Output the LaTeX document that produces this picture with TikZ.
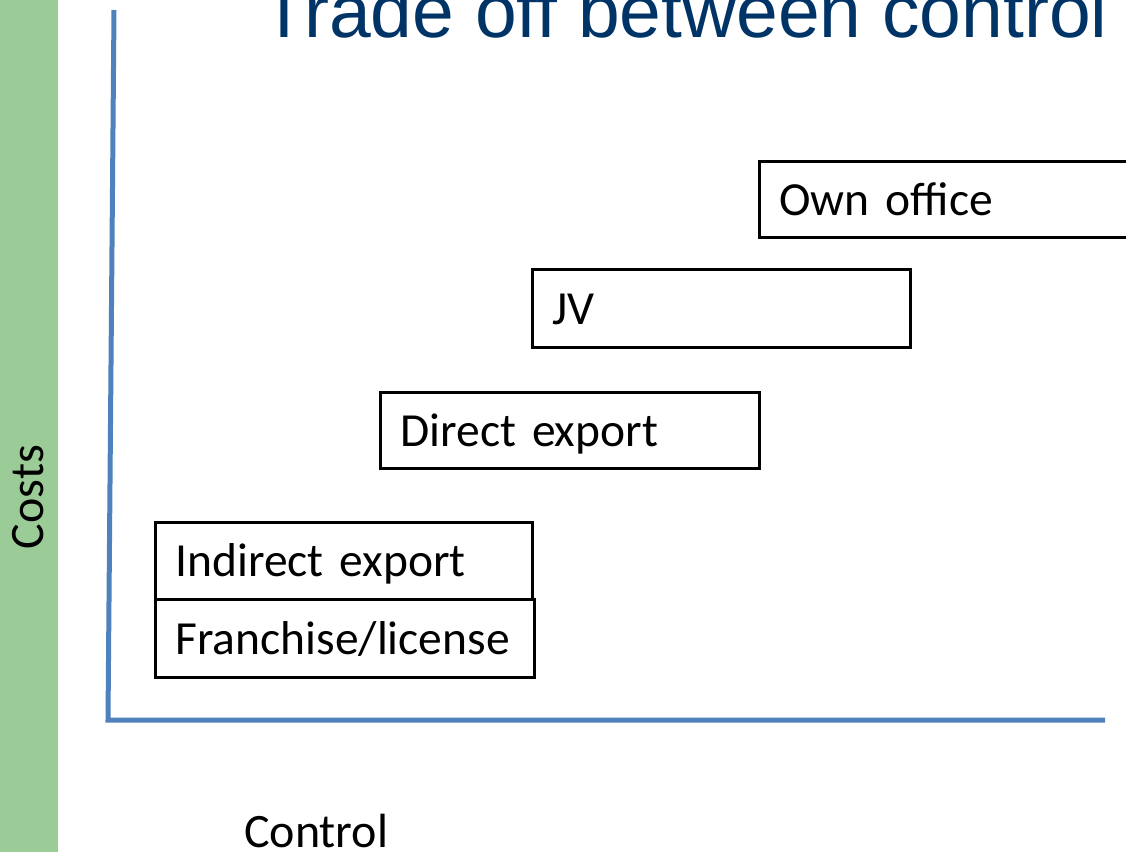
\documentclass[tikz,border=0pt]{standalone}
\usepackage{fontspec}
\setmainfont{Carlito}[WordSpace={0.75,0,0}]
\newfontfamily\titlefont{Liberation Sans}
\usetikzlibrary{calc}
\definecolor{sidegreen}{RGB}{155,204,152}
\definecolor{axisblue}{RGB}{79,129,189}
\definecolor{titleblue}{RGB}{0,51,102}
\tikzset{
  optbox/.style={draw=black, line width=3pt, anchor=north west, inner xsep=20pt, inner ysep=0pt,
    text height=31pt, text depth=0pt, align=left, font=\fontsize{47.5}{56}\selectfont},
  axisline/.style={draw=axisblue, line width=5pt, line join=miter},
  bodytext/.style={font=\fontsize{48}{56}\selectfont, inner sep=0pt}
}
\begin{document}
\begin{tikzpicture}[x=1pt,y=-1pt]
\useasboundingbox (0,0) rectangle (1126,852);
\fill[sidegreen] (0,0) rectangle (58,852);
% title
\node[anchor=base west, inner sep=0pt, text=titleblue, font=\titlefont\fontsize{75}{82}\selectfont] (title) at (261,37) {Trade off between control};
% axes
\coordinate (ytop) at (114,10);
\coordinate (origin) at (108,720);
\coordinate (xend) at (1105,720);
\draw[axisline] (ytop) -- (origin) -- (xend);
% axis labels
\node[bodytext, rotate=90] (costs) at (28,497) {Costs};
\node[bodytext, anchor=base west] (control) at (244,847) {Control};
% option boxes
\node[optbox, minimum width=400pt, minimum height=76pt, text width=360pt] (own) at (758,160) {Own office};
\node[optbox, minimum width=378pt, minimum height=78pt, text width=338pt] (jv) at (531,268) {JV};
\node[optbox, minimum width=379pt, minimum height=76pt, text width=339pt] (direct) at (379,391) {Direct export};
\node[optbox, minimum width=377pt, minimum height=77pt, text width=337pt] (indirect) at (154,521) {Indirect export};
\node[optbox, minimum width=379pt, minimum height=78pt, text width=339pt] (franchise) at (154,598) {Franchise/license};
\end{tikzpicture}
\end{document}
